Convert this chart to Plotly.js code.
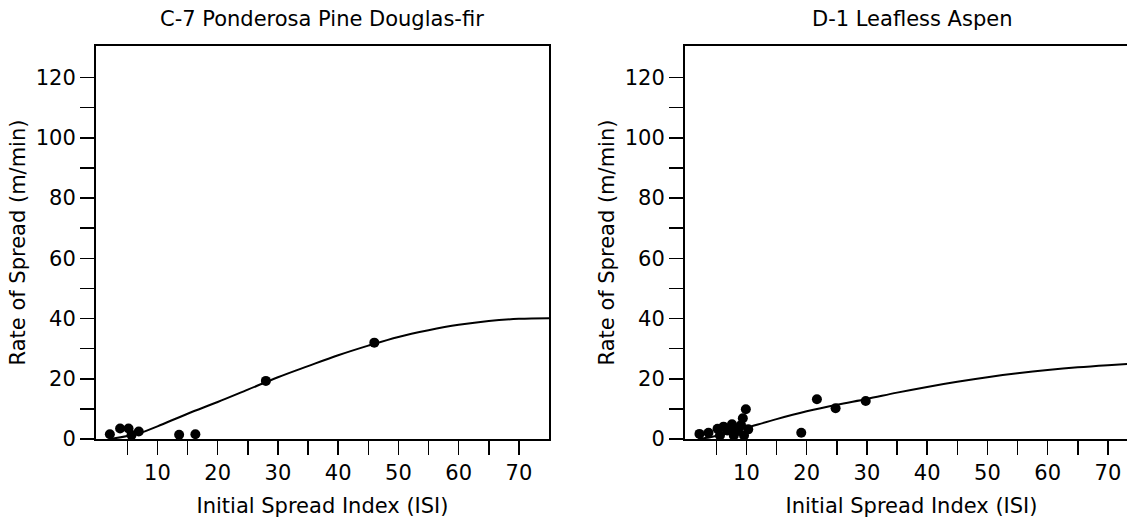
<!DOCTYPE html>
<html>
<head>
<meta charset="utf-8">
<script src="https://cdn.plot.ly/plotly-3.0.1.min.js"></script>
<style>
html,body{margin:0;padding:0;overflow:hidden;background:#fff;}
#chart{width:1141px;height:518px;}
</style>
</head>
<body>
<div id="chart"></div>
<script>
// ---- Data ----
const panelTitles = ["C-7 Ponderosa Pine Douglas-fir", "D-1 Leafless Aspen"];
const xTitle = "Initial Spread Index (ISI)";
const yTitle = "Rate of Spread (m/min)";

// C-7 observations
const c7Isi = [2.1, 3.8, 5.2, 5.7, 6.9, 13.6, 16.3, 28.0, 46.0];
const c7Ros = [1.6, 3.5, 3.5, 1.3, 2.5, 1.4, 1.6, 19.3, 32.0];
// C-7 model curve
const c7CurveIsi = [2.2, 5, 7, 10, 15, 20, 25, 30, 35, 40, 45, 50, 55, 60, 65, 70, 75];
const c7CurveRos = [0, 1.0, 1.9, 4.2, 8.4, 12.3, 16.4, 20.5, 24.2, 27.8, 31.0, 33.9, 36.1, 37.9, 39.2, 39.9, 40.1];

// D-1 observations
const d1Isi = [2.2, 3.7, 5.2, 5.6, 6.2, 6.8, 7.6, 8.0, 7.9, 8.6, 9.1, 9.4, 9.9, 9.6, 10.3, 19.1, 21.7, 24.8, 29.8];
const d1Ros = [1.7, 2.1, 3.4, 1.2, 4.1, 2.8, 4.9, 3.6, 1.2, 2.7, 4.6, 6.9, 9.9, 1.2, 3.2, 2.1, 13.2, 10.2, 12.6];
// D-1 model curve
const d1CurveIsi = [2, 4, 6, 8, 10, 15, 20, 25, 30, 35, 40, 45, 50, 55, 60, 65, 70, 75];
const d1CurveRos = [0, 0.6, 1.5, 2.6, 3.7, 6.6, 9.2, 11.4, 13.3, 15.4, 17.3, 19.0, 20.5, 21.8, 22.9, 23.8, 24.5, 25.1];

// Ticks
const xTickVals = [5, 10, 15, 20, 25, 30, 35, 40, 45, 50, 55, 60, 65, 70];
const xTickText = ["", "10", "", "20", "", "30", "", "40", "", "50", "", "60", "", "70"];
const yTickVals = [0, 10, 20, 30, 40, 50, 60, 70, 80, 90, 100, 110, 120];
const yTickText = ["0", "", "20", "", "40", "", "60", "", "80", "", "100", "", "120"];

// ---- Build ----
const FONT = "DejaVu Sans, Verdana, sans-serif";
const FS = 21;
function pts(x, y, xa, ya) {
  return {x: x, y: y, xaxis: xa, yaxis: ya, type: "scatter", mode: "markers",
          marker: {color: "#000", size: 10}, cliponaxis: false, showlegend: false, hoverinfo: "x+y"};
}
function curve(x, y, xa, ya) {
  return {x: x, y: y, xaxis: xa, yaxis: ya, type: "scatter", mode: "lines",
          line: {color: "#000", width: 2, shape: "spline", smoothing: 1}, showlegend: false, hoverinfo: "x+y"};
}
const traces = [
  curve(c7CurveIsi, c7CurveRos, "x", "y"),
  pts(c7Isi, c7Ros, "x", "y"),
  curve(d1CurveIsi, d1CurveRos, "x2", "y2"),
  pts(d1Isi, d1Ros, "x2", "y2")
];

function xAxis(domain, anchor) {
  return {domain: domain, anchor: anchor, range: [-0.2, 75], tickmode: "array",
          tickvals: xTickVals, ticktext: xTickText, ticks: "outside", ticklen: 14, tickwidth: 1.5,
          tickcolor: "#000", showline: true, linecolor: "#000", linewidth: 2, mirror: true,
          showgrid: false, zeroline: false, tickfont: {family: FONT, size: FS, color: "#000"},
          title: {text: xTitle, font: {family: FONT, size: FS, color: "#000"}, standoff: 16}};
}
function yAxis(anchor) {
  return {domain: [0, 1], anchor: anchor, range: [0, 130.5], tickmode: "array",
          tickvals: yTickVals, ticktext: yTickText, ticks: "outside", ticklen: 14, tickwidth: 1.5,
          tickcolor: "#000", showline: true, linecolor: "#000", linewidth: 2, mirror: true,
          showgrid: false, zeroline: false, tickfont: {family: FONT, size: FS, color: "#000"},
          title: {text: yTitle, font: {family: FONT, size: FS, color: "#000"}, standoff: 4}};
}
const d1 = [0, 0.43474], d2 = [0.56526, 1];
const layout = {
  width: 1141, height: 518,
  margin: {l: 96, r: 3, t: 46, b: 79, pad: 0},
  paper_bgcolor: "#fff", plot_bgcolor: "#fff",
  font: {family: FONT, size: FS, color: "#000"},
  xaxis: xAxis(d1, "y"), yaxis: yAxis("x"),
  xaxis2: xAxis(d2, "y2"), yaxis2: yAxis("x2"),
  annotations: [
    {text: panelTitles[0], xref: "paper", yref: "paper", x: (d1[0] + d1[1]) / 2, y: 1,
     xanchor: "center", yanchor: "bottom", yshift: 13, showarrow: false,
     font: {family: FONT, size: FS, color: "#000"}},
    {text: panelTitles[1], xref: "paper", yref: "paper", x: (d2[0] + d2[1]) / 2, y: 1,
     xanchor: "center", yanchor: "bottom", yshift: 13, showarrow: false,
     font: {family: FONT, size: FS, color: "#000"}}
  ]
};
Plotly.newPlot("chart", traces, layout, {displayModeBar: false, staticPlot: true});
</script>
</body>
</html>
